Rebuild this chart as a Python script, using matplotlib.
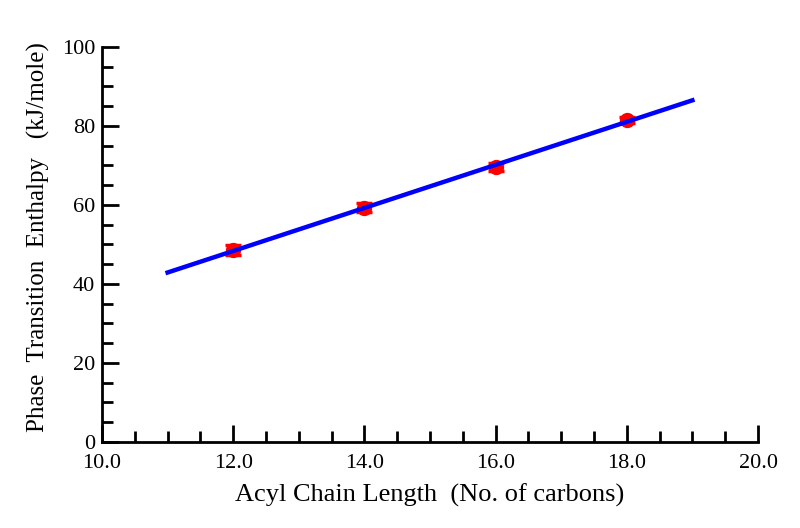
import numpy as np
import matplotlib.pyplot as plt
from matplotlib.ticker import MultipleLocator, FormatStrFormatter

# data
chain_length = [12, 14, 16, 18]
enthalpy = [48.6, 59.3, 69.6, 81.6]
enthalpy_err = [1.3, 1.2, 1.1, 0.8]

# fitted line end points
fit_x = [11, 19]
fit_y = [42.9, 86.5]

plt.rcParams['font.family'] = ['Liberation Serif', 'DejaVu Serif']

fig = plt.figure(figsize=(8, 5.28), dpi=100)
ax = fig.add_axes([0.1275, 0.163, 0.82, 0.748])

ax.plot(fit_x, fit_y, color='#0000ff', lw=3.2, zorder=3)
ax.errorbar(chain_length, enthalpy, yerr=enthalpy_err, fmt='o', color='#ff0000',
            ms=10, capsize=6, elinewidth=6, capthick=2.5, zorder=2)

ax.set_xlim(10, 20)
ax.set_ylim(0, 100)
ax.xaxis.set_major_locator(MultipleLocator(2))
ax.xaxis.set_minor_locator(MultipleLocator(0.5))
ax.yaxis.set_major_locator(MultipleLocator(20))
ax.yaxis.set_minor_locator(MultipleLocator(5))
ax.xaxis.set_major_formatter(FormatStrFormatter('%.1f'))

for s in ['top', 'right']:
    ax.spines[s].set_visible(False)
for s in ['left', 'bottom']:
    ax.spines[s].set_linewidth(2)

ax.tick_params(which='both', direction='in', width=2, labelsize=16)
ax.tick_params(which='major', length=12)
ax.tick_params(which='minor', length=8)
ax.tick_params(axis='x', which='major', pad=9)
ax.tick_params(axis='y', which='major', pad=5)

ax.set_xlabel('Acyl Chain Length  (No. of carbons)', fontsize=19, labelpad=7)
ax.set_ylabel('Phase  Transition  Enthalpy   (kJ/mole)', fontsize=18)
ax.yaxis.set_label_coords(-0.08, 0.52)

fig.savefig('out.png', dpi=100)
